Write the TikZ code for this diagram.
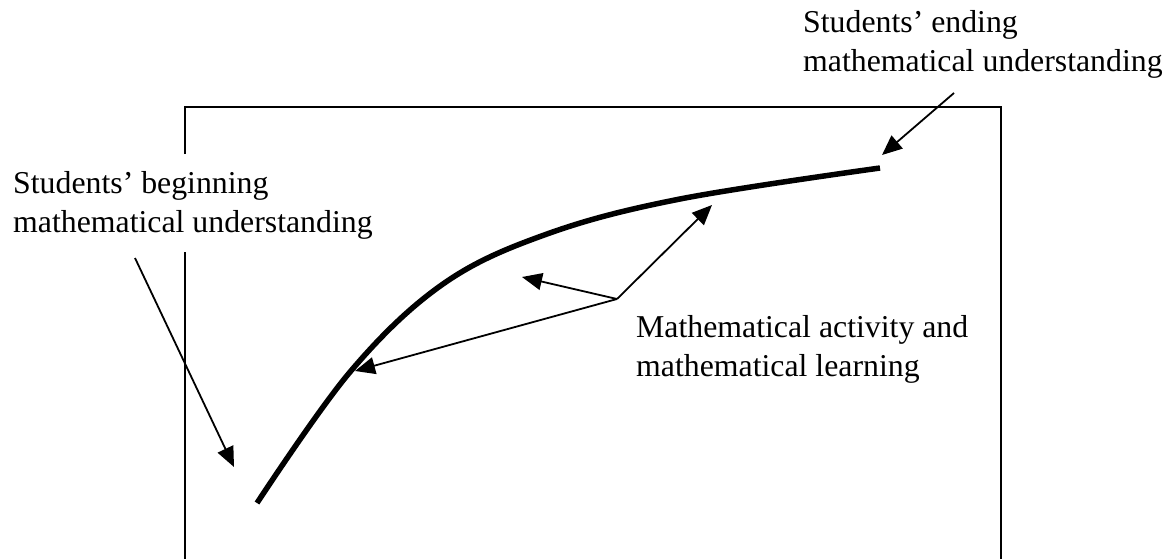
\documentclass[tikz,border=0pt]{standalone}
\usepackage{fontspec}
\setmainfont{Liberation Serif}
\usetikzlibrary{arrows.meta}
\begin{document}
\begin{tikzpicture}[x=1pt,y=-1pt,
  frame/.style={line width=2pt},
  pointer/.style={line width=1.8pt,-{Triangle[length=20pt,width=17pt]}},
  growth/.style={line width=5.5pt},
  lbl/.style={inner sep=0pt,anchor=base west,align=left,font=\fontsize{31.8}{39}\selectfont}]
\useasboundingbox (0,0) rectangle (1169,559);
% frame
\draw[frame] (185,154) -- (185,107.5) -- (1001,107.5) -- (1001,560);
\draw[frame] (185,252) -- (185,560);
% labels (anchor at baseline of last line)
\node[lbl] (begin) at (13,232) {Students’ beginning\\mathematical understanding};
\node[lbl] (end) at (803,72) {Students’ ending\\mathematical understanding};
\node[lbl] (act) at (636,376) {Mathematical activity and\\mathematical learning};
% growth curve
\draw[growth] plot[smooth,tension=0.6] coordinates {(257,503) (350,372) (443,284) (547,234) (680,199) (880,168)};
% connector points
\coordinate (b0) at (135,258);
\coordinate (b1) at (234,467);
\coordinate (e0) at (954,93);
\coordinate (e1) at (882,155);
\coordinate (j) at (617,299);
\coordinate (t1) at (355,371);
\coordinate (t2) at (522,277);
\coordinate (t3) at (712,205);
\draw[pointer] (b0) -- (b1);
\draw[pointer] (e0) -- (e1);
\draw[pointer] (j) -- (t1);
\draw[pointer] (j) -- (t2);
\draw[pointer] (j) -- (t3);
\end{tikzpicture}
\end{document}
